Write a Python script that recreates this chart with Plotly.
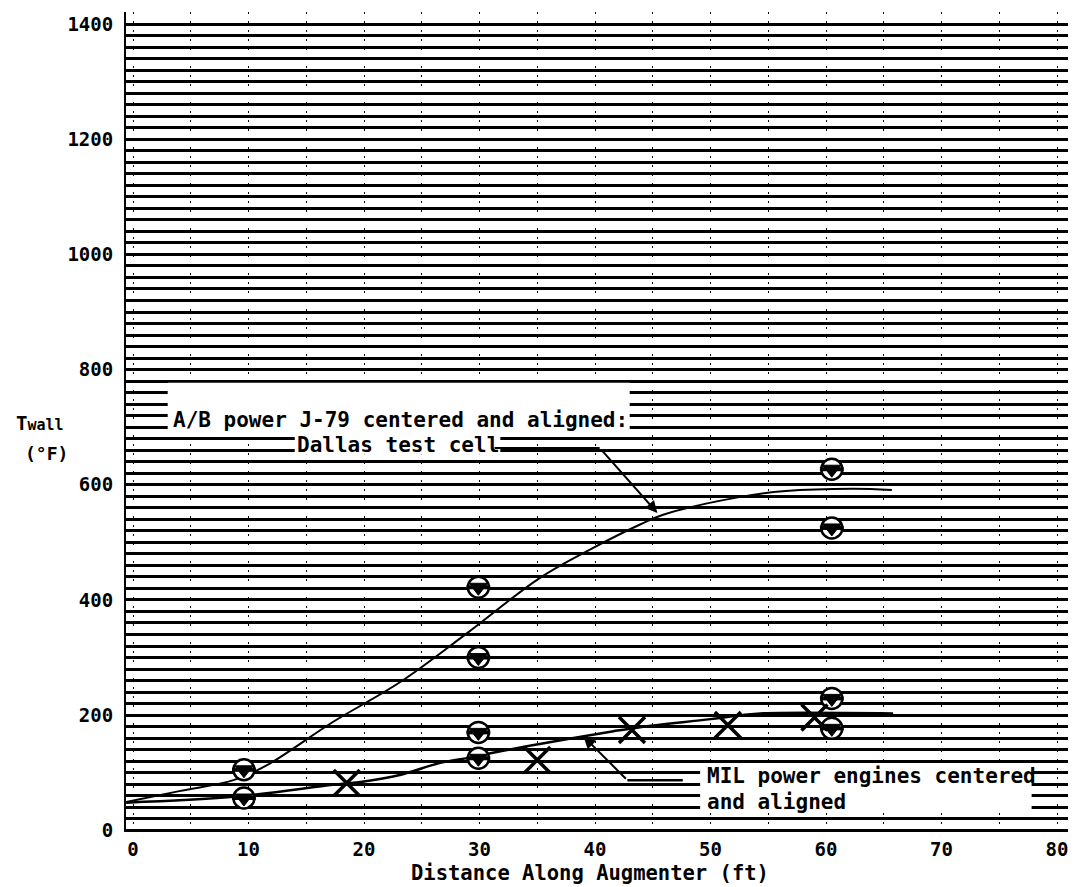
import plotly.graph_objects as go

# ---- data ----
ab_curve_x = [-0.6, 4.0, 8.7, 11.6, 17.3, 23.1, 28.9, 35.2, 39.8, 43.9, 45.9, 52.6, 56.5, 62.3, 65.7]
ab_curve_y = [49, 68, 87, 113, 188, 257, 342, 438, 490, 531, 548, 579, 589, 593, 591]

mil_curve_x = [-0.6, 8.7, 17.3, 19.7, 23.1, 26.6, 29.4, 31.5, 35.2, 41.6, 43.9, 50.0, 52.8, 54.3, 65.8]
mil_curve_y = [48, 58, 79, 84, 96, 117, 127, 136, 150, 172, 179, 193, 200, 203, 203]

ab_pts_x = [9.6, 29.9, 29.9, 60.5, 60.5]
ab_pts_y = [105, 422, 300, 627, 525]

mil_pts_x = [9.6, 29.9, 29.9, 60.5, 60.5]
mil_pts_y = [56, 170, 125, 229, 177]

x_pts_x = [18.5, 35.0, 43.2, 51.5, 59.0]
x_pts_y = [82, 122, 174, 183, 196]

x_ticks = [0, 10, 20, 30, 40, 50, 60, 70, 80]
y_ticks = [0, 200, 400, 600, 800, 1000, 1200, 1400]

MONO = "DejaVu Sans Mono"

fig = go.Figure()

fig.add_trace(go.Scatter(x=ab_curve_x, y=ab_curve_y, mode="lines",
                         line=dict(color="black", width=2, shape="spline", smoothing=1.0),
                         hoverinfo="skip"))
fig.add_trace(go.Scatter(x=mil_curve_x, y=mil_curve_y, mode="lines",
                         line=dict(color="black", width=2.5, shape="spline", smoothing=1.0),
                         hoverinfo="skip"))

for xs, ys in [(ab_pts_x, ab_pts_y), (mil_pts_x, mil_pts_y)]:
    fig.add_trace(go.Scatter(x=xs, y=ys, mode="markers",
                             marker=dict(symbol="circle", size=21, color="white",
                                         line=dict(color="black", width=2.5))))
    fig.add_trace(go.Scatter(x=xs, y=ys, mode="markers",
                             marker=dict(symbol="triangle-down", size=16, color="black",
                                         line=dict(color="black", width=1))))
    fig.add_trace(go.Scatter(x=xs, y=ys, mode="markers",
                             marker=dict(symbol="line-ew", size=17, color="black",
                                         line=dict(color="black", width=4))))

fig.add_trace(go.Scatter(x=x_pts_x, y=x_pts_y, mode="markers",
                         marker=dict(symbol="x-thin-open", size=26, color="black",
                                     line=dict(color="black", width=3.5))))

shapes = [
    # white label backgrounds (cover the ruled lines)
    dict(type="rect", xref="x", yref="y", x0=3.0, x1=43.0, y0=683, y1=777,
         fillcolor="white", line=dict(width=0), layer="between"),
    dict(type="rect", xref="x", yref="y", x0=14.0, x1=31.8, y0=652, y1=683,
         fillcolor="white", line=dict(width=0), layer="between"),
    dict(type="rect", xref="x", yref="y", x0=49.1, x1=77.8, y0=30, y1=110,
         fillcolor="white", line=dict(width=0), layer="between"),
    # horizontal parts of leader lines
    dict(type="line", xref="x", yref="y", x0=31.3, x1=40.4, y0=664, y1=664,
         line=dict(color="black", width=2)),
    dict(type="line", xref="x", yref="y", x0=42.8, x1=47.6, y0=87, y1=87,
         line=dict(color="black", width=2.5)),
]

label_font = dict(family=MONO, size=21, color="black", weight="bold")
annotations = [
    dict(x=23.16, y=712, xref="x", yref="y", text="A/B power J-79 centered and aligned:",
         showarrow=False, font=label_font, xanchor="center", yanchor="middle"),
    dict(x=22.9, y=669, xref="x", yref="y", text="Dallas test cell",
         showarrow=False, font=label_font, xanchor="center", yanchor="middle"),
    dict(x=49.5, y=94, xref="x", yref="y", text="MIL power engines centered",
         showarrow=False, font=label_font, xanchor="left", yanchor="middle"),
    dict(x=49.5, y=49, xref="x", yref="y", text="and aligned",
         showarrow=False, font=label_font, xanchor="left", yanchor="middle"),
    # leader arrows
    dict(x=45.4, y=551, ax=40.4, ay=664, xref="x", yref="y", axref="x", ayref="y",
         text="", showarrow=True, arrowhead=2, arrowsize=1.2, arrowwidth=2, arrowcolor="black"),
    dict(x=39.0, y=163, ax=42.8, ay=87, xref="x", yref="y", axref="x", ayref="y",
         text="", showarrow=True, arrowhead=2, arrowsize=1.2, arrowwidth=2, arrowcolor="black"),
    # axis titles
    dict(x=0.4926, y=0, xref="paper", yref="paper", yshift=-41,
         text="Distance Along Augmenter (ft)", showarrow=False,
         font=dict(family=MONO, size=20.5, color="black", weight="bold"),
         xanchor="center", yanchor="middle"),
    dict(x=0, y=(832 - 423) / 820, xref="paper", yref="paper", xshift=-86,
         text="T<span style='font-size:15px'>wall</span>", showarrow=False,
         font=dict(family=MONO, size=19, color="black", weight="bold"),
         xanchor="center", yanchor="middle"),
    dict(x=0, y=(832 - 453) / 820, xref="paper", yref="paper", xshift=-80,
         text="(°F)", showarrow=False,
         font=dict(family=MONO, size=18, color="black", weight="bold"),
         xanchor="center", yanchor="middle"),
]

fig.update_layout(
    width=1074, height=887,
    margin=dict(l=126, r=6, t=12, b=55),
    plot_bgcolor="white", paper_bgcolor="white",
    showlegend=False,
    shapes=shapes, annotations=annotations,
    xaxis=dict(range=[-0.61, 80.95], tickvals=x_ticks, ticktext=[str(v) for v in x_ticks],
               showgrid=True, gridcolor="black", gridwidth=1, griddash="2px,7px",
               minor=dict(dtick=5, tick0=0, showgrid=True, gridcolor="black",
                          gridwidth=1, griddash="2px,7px"),
               zeroline=False, showline=False, ticks="", ticklabelstandoff=4,
               tickfont=dict(family=MONO, size=19, color="black", weight="bold")),
    yaxis=dict(range=[-3, 1421], tickvals=y_ticks, ticktext=[str(v) for v in y_ticks],
               showgrid=True, gridcolor="black", gridwidth=3,
               minor=dict(dtick=20, tick0=0, showgrid=True, gridcolor="black", gridwidth=3),
               zeroline=False, showline=True, linecolor="black", linewidth=2,
               ticks="", ticklabelstandoff=7,
               tickfont=dict(family=MONO, size=19, color="black", weight="bold")),
)

fig.write_html("out.html", config={"displayModeBar": False},
               post_script="document.body.style.margin='0';document.body.style.overflow='hidden';")
